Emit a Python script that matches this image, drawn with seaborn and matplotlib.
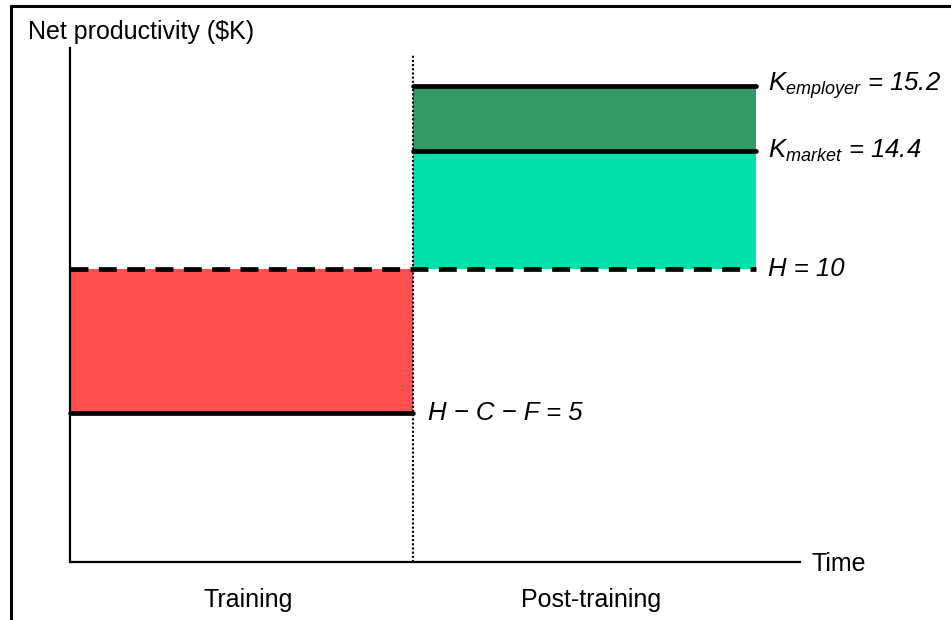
import numpy as np
import pandas as pd
import matplotlib.pyplot as plt
import seaborn as sns
from matplotlib.lines import Line2D

# Time phases (schematic units)
phases = ["Training", "Post-training"]
phase_edges = [0, 1, 2]

# Net productivity levels ($K)
h_c_f = 5
h_wage = 10
k_market = 14.4
k_employer = 15.2

# Schematic (not to scale) vertical axis: value -> drawn height
scale_vals = [0, 5, 10, 14.4, 15.2, 30]
scale_draw = [0, 5.09, 10, 14.03, 16.25, 31.05]

colors = {"red": "#FF5050", "mint": "#00E2AA", "green": "#339966"}


def fwd(v):
    return np.interp(v, scale_vals, scale_draw)


def inv(d):
    return np.interp(d, scale_draw, scale_vals)


def main():
    sns.set_theme(style="white")
    plt.rcParams["font.family"] = ["Liberation Sans", "DejaVu Sans"]
    plt.rcParams["text.color"] = "black"
    plt.rcParams["mathtext.fontset"] = "custom"
    plt.rcParams["mathtext.it"] = "Liberation Sans:italic"
    plt.rcParams["mathtext.rm"] = "Liberation Sans"

    fig = plt.figure(figsize=(9.51, 6.20), dpi=100)
    ax = fig.add_axes([0.0736, 0.0935, 0.7676, 0.829])
    ax.set_yscale("function", functions=(fwd, inv))
    ax.set_xlim(0, 730 / 343)
    ax.set_ylim(0, inv(17.54))

    t0, t1, t2 = phase_edges

    # Shaded bands
    ax.fill_between([t0, t1], h_c_f, h_wage, color=colors["red"], lw=0, zorder=1)
    ax.fill_between([t1, t2], h_wage, k_market, color=colors["mint"], lw=0, zorder=1)
    ax.fill_between([t1, t2], k_market, k_employer, color=colors["green"], lw=0, zorder=1)

    # Solid level lines
    levels = pd.DataFrame({
        "seg": ["emp", "emp", "mkt", "mkt", "hcf", "hcf"],
        "x": [t1, t2, t1, t2, t0, t1],
        "y": [k_employer, k_employer, k_market, k_market, h_c_f, h_c_f],
    })
    sns.lineplot(data=levels, x="x", y="y", units="seg", estimator=None,
                 color="black", lw=3.4, solid_capstyle="round", ax=ax,
                 zorder=3, clip_on=False)

    # Dashed H line
    ax.plot([t0, t2], [h_wage, h_wage], color="black", lw=3.4,
            linestyle=(0, (3.8, 2.2)), zorder=3, clip_on=False)

    # Phase divider
    ax.plot([t1, t1], [inv(-0.35), inv(17.3)], color="black", lw=1.5,
            linestyle=(0, (1, 1)), zorder=4, clip_on=False)

    # Axes styling
    for side in ["top", "right"]:
        ax.spines[side].set_visible(False)
    for side in ["left", "bottom"]:
        ax.spines[side].set_linewidth(1.6)
        ax.spines[side].set_color("black")
    ax.set_xticks([])
    ax.set_yticks([])
    ax.minorticks_off()
    ax.set_xlabel("")
    ax.set_ylabel("")

    # Level labels
    lx = 2.035
    kw = dict(fontsize=18.5, style="italic", va="center", ha="left", color="black")
    ax.text(lx, k_employer, r"$K_{employer}$ = 15.2", **kw)
    ax.text(lx, k_market, r"$K_{market}$ = 14.4", **kw)
    ax.text(lx, h_wage, "H = 10", **kw)
    ax.text(1.044, h_c_f, "H \u2212 C \u2212 F = 5", **kw)

    # Phase labels and axis titles
    for i, name in enumerate(phases):
        mid = (phase_edges[i] + phase_edges[i + 1]) / 2 + 0.02
        ax.text(mid, -0.073, name, transform=ax.get_xaxis_transform(),
                ha="center", va="center", fontsize=18, color="black")
    ax.text(2.163, -0.003, "Time", transform=ax.get_xaxis_transform(),
            ha="left", va="center", fontsize=18, color="black")
    fig.text(0.0294, 0.949, "Net productivity ($K)", ha="left", va="center",
             fontsize=18, color="black")

    # Frame
    fig.add_artist(Line2D([0.0115, 1.0], [0.9903, 0.9903], color="black", lw=2.2,
                          transform=fig.transFigure))
    fig.add_artist(Line2D([0.0115, 0.0115], [0.0, 0.9903], color="black", lw=2.2,
                          transform=fig.transFigure))

    fig.savefig("out.png", dpi=100)
    plt.close(fig)


if __name__ == "__main__":
    main()
